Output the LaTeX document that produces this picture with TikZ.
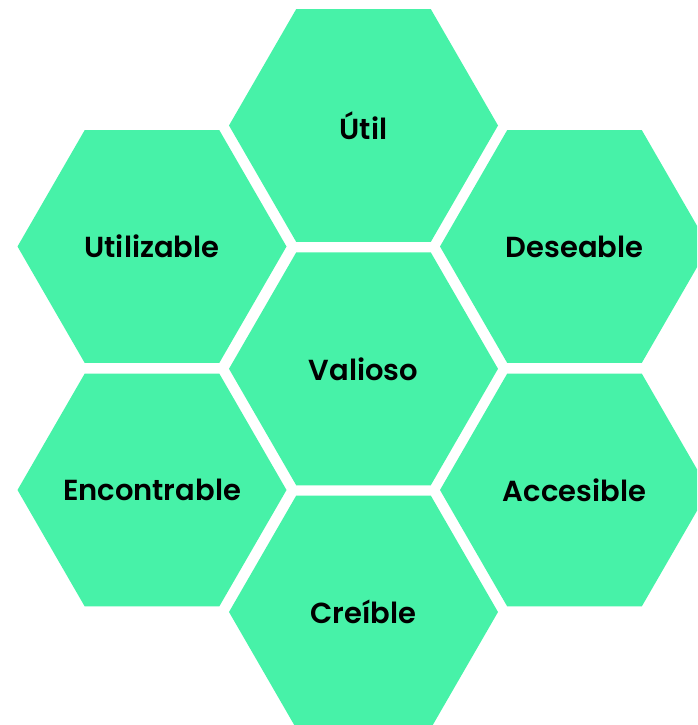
\documentclass[tikz,border=0pt]{standalone}
\usepackage{fontspec}
\setmainfont{Poppins}[UprightFont=* SemiBold, BoldFont=* Bold]
\usetikzlibrary{shapes.geometric}
\definecolor{hexgreen}{RGB}{71,242,168}
\tikzset{
  hexcell/.style={regular polygon, regular polygon sides=6, minimum size=269pt,
    inner sep=0pt, fill=hexgreen, draw=none},
  hexlabel/.style={text=black, inner sep=0pt, font=\fontsize{29}{34}\selectfont}
}
\begin{document}
\begin{tikzpicture}[x=1pt,y=-1pt]
\useasboundingbox (0,0) rectangle (697,725);
\clip (0,0) rectangle (697,725);
\node[hexcell, label={[hexlabel]center:Útil}] (util) at (363.5,125.5) {};
\node[hexcell, label={[hexlabel]center:Valioso}] (valioso) at (363.5,368.8) {};
\node[hexcell, label={[hexlabel]center:Creíble}] (creible) at (363.5,612) {};
\node[hexcell, label={[hexlabel]center:Utilizable}] (utilizable) at (152,246.5) {};
\node[hexcell, label={[hexlabel]center:Encontrable}] (encontrable) at (152,490) {};
\node[hexcell, label={[hexlabel]center:Deseable}] (deseable) at (574.5,246.5) {};
\node[hexcell, label={[hexlabel]center:Accesible}] (accesible) at (574.5,490) {};
\end{tikzpicture}
\end{document}
